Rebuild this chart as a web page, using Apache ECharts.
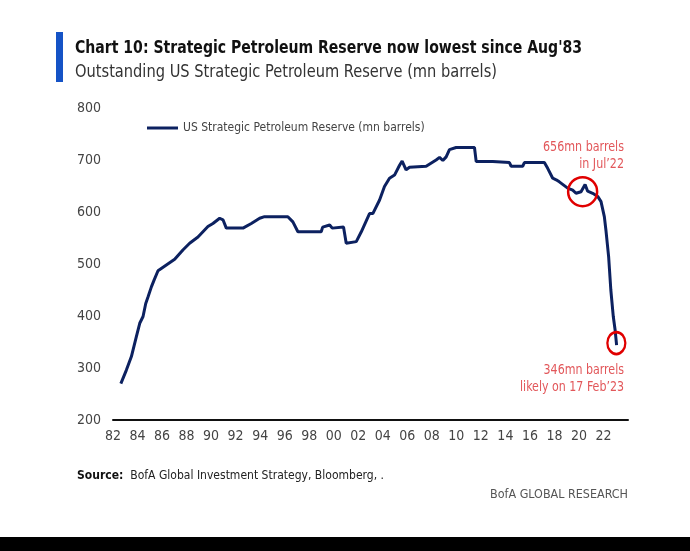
<!DOCTYPE html>
<html>
<head>
<meta charset="utf-8">
<script src="https://cdn.jsdelivr.net/npm/echarts@6/dist/echarts.min.js"></script>
<style>
html,body{margin:0;padding:0;background:#fff;}
#c{width:690px;height:551px;}
</style>
</head>
<body>
<div id="c"></div>
<script>
var years = [1982.64,1983.09,1983.5,1983.9,1984.18,1984.45,1984.67,1984.86,1985.13,1985.35,1985.67,1986.35,1987.03,1987.7,1988.25,1988.93,1989.74,1990.15,1990.7,1990.97,1991.24,1992.6,1993.28,1993.96,1994.36,1996.26,1996.67,1997.08,1998.98,1999.1,1999.67,1999.88,2000.8,2001.02,2001.84,2002.25,2002.92,2003.19,2003.74,2004.14,2004.55,2004.96,2005.37,2005.58,2005.9,2006.18,2007.54,2008.35,2008.63,2008.9,2009.17,2009.44,2009.98,2011.48,2011.62,2012.97,2014.33,2014.47,2015.41,2015.55,2017.18,2017.45,2017.86,2018.14,2018.4,2019.08,2019.49,2019.76,2020.17,2020.5,2020.71,2021.12,2021.53,2021.8,2022.07,2022.2,2022.42,2022.6,2022.8,2022.95,2023.07];
var values = [270,296,322,360,386,399,424,437,456,469,487,498,509,527,540,552,572,578,588,585,569,569,578,588,591,591,581,562,562,571,575,569,571,540,543,562,597,597,623,649,665,671,690,698,681,686,688,700,705,699,706,720,724,724,697,697,695,688,688,695,695,684,665,662,658,646,642,636,639,653,640,636,630,620,591,565,514,450,399,373,344];
var yTicks = [200,300,400,500,600,700,800];
var xTickYears = [1982,1984,1986,1988,1990,1992,1994,1996,1998,2000,2002,2004,2006,2008,2010,2012,2014,2016,2018,2020,2022];
var highlightPoints = [[2020.3,639],[2023.05,348]];
var seriesName = 'US Strategic Petroleum Reserve (mn barrels)';
var titleText = "Chart 10: Strategic Petroleum Reserve now lowest since Aug'83";
var subtitleText = 'Outstanding US Strategic Petroleum Reserve (mn barrels)';
var note1 = ['656mn barrels', 'in Jul\u201922'];
var note2 = ['346mn barrels', 'likely on 17 Feb\u201923'];
var sourceText = 'BofA Global Investment Strategy, Bloomberg, .';
var brandText = 'BofA GLOBAL RESEARCH';

var FONT = '"Liberation Sans Narrow","DejaVu Sans Condensed",sans-serif';
var RED_TXT = '#e2575a';
var ctx = document.createElement('canvas').getContext('2d');
function textW(t, font){ ctx.font = font; return ctx.measureText(t).width; }
function fit(lines, font, target){
  var w = 0; lines.forEach(function(l){ w = Math.max(w, textW(l, font)); });
  return target / w;
}

var titleFont = 'bold 18px ' + FONT;
var subFont = '17px ' + FONT;
var noteFont = '14px ' + FONT;
var srcBold = 'bold 13px ' + FONT, srcNorm = '13px ' + FONT;
var brandFont = '13px ' + FONT;
var srcScale = 307 / (textW('Source:', srcBold) + textW('  ' + sourceText, srcNorm));

var chart = echarts.init(document.getElementById('c'), null, {renderer:'canvas'});
var data = years.map(function(y,i){return [y, values[i]];});
chart.setOption({
  animation:false,
  backgroundColor:'#ffffff',
  textStyle:{fontFamily:FONT},
  grid:{left:113,right:62,top:108,bottom:131,containLabel:false},
  legend:{
    data:[seriesName], left:147, top:122, padding:0, icon:'rect', itemWidth:31, itemHeight:3, itemGap:4,
    textStyle:{fontFamily:FONT,fontSize:12,color:'#444'}
  },
  xAxis:{
    type:'value', min:1982, max:2024, interval:2,
    axisLine:{show:true,lineStyle:{color:'#111',width:2}},
    axisTick:{show:false}, splitLine:{show:false},
    axisLabel:{fontFamily:FONT,fontSize:14,color:'#444',margin:9,
      formatter:function(v){return xTickYears.indexOf(v)>=0 ? String(v).slice(2) : '';}}
  },
  yAxis:{
    type:'value', min:yTicks[0], max:yTicks[yTicks.length-1], interval:100,
    axisLine:{show:false}, axisTick:{show:false}, splitLine:{show:false},
    axisLabel:{fontFamily:FONT,fontSize:14,color:'#444',margin:12}
  },
  series:[{
    name:seriesName, type:'line', data:data, symbol:'none',
    itemStyle:{color:'#0c2160'},
    lineStyle:{color:'#0c2160',width:3},
    markPoint:{
      silent:true,
      label:{show:false},
      data:[
        {coord:highlightPoints[0], symbol:'circle', symbolSize:[29,29], itemStyle:{color:'rgba(0,0,0,0)',borderColor:'#e00000',borderWidth:2.5}},
        {coord:highlightPoints[1], symbol:'circle', symbolSize:[18,22], itemStyle:{color:'rgba(0,0,0,0)',borderColor:'#e00000',borderWidth:2.5}}
      ]
    }
  }],
  graphic:[
    {type:'rect', left:56, top:32, shape:{width:7,height:50}, style:{fill:'#1553c6'}},
    {type:'text', x:75, y:48, scaleX:fit([titleText], titleFont, 507), style:{text:titleText, font:titleFont, fill:'#111', textVerticalAlign:'middle'}},
    {type:'text', x:75, y:73, scaleX:fit([subtitleText], subFont, 422), style:{text:subtitleText, font:subFont, fill:'#333', textVerticalAlign:'middle'}},
    {type:'text', x:624, y:139, scaleX:fit(note1, noteFont, 81), style:{text:note1.join('\n'), font:noteFont, fill:RED_TXT, textAlign:'right', lineHeight:17}},
    {type:'text', x:624, y:362, scaleX:fit(note2, noteFont, 104), style:{text:note2.join('\n'), font:noteFont, fill:RED_TXT, textAlign:'right', lineHeight:17}},
    {type:'text', x:77, y:476, scaleX:srcScale, style:{rich:{b:{font:srcBold,fill:'#111'},n:{font:srcNorm,fill:'#222'}}, text:'{b|Source:}{n|  ' + sourceText + '}', textVerticalAlign:'middle'}},
    {type:'text', x:628, y:495, scaleX:fit([brandText], brandFont, 138), style:{text:brandText, font:brandFont, fill:'#555', textAlign:'right', textVerticalAlign:'middle'}},
    {type:'rect', left:0, top:537, shape:{width:690,height:14}, style:{fill:'#000'}}
  ]
});
</script>
</body>
</html>
